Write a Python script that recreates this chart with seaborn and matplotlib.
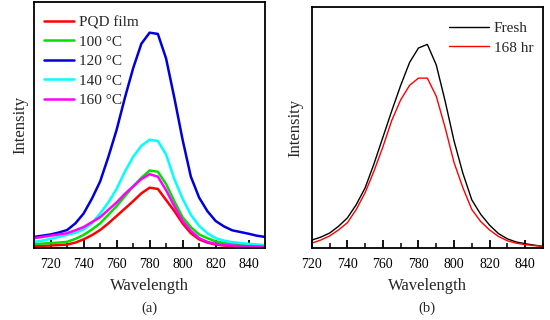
import numpy as np
import pandas as pd
import matplotlib
matplotlib.use('Agg')
import matplotlib.pyplot as plt
from matplotlib.ticker import MultipleLocator
import seaborn as sns

sns.set_style('ticks')
plt.rcParams['font.family'] = ['Liberation Serif', 'DejaVu Serif']

# ---- panel (a): PL spectra after annealing ----
wl_a = list(range(710, 851, 5))
pqd_film = [.008, .009, .010, .012, .014, .022, .035, .052, .073, .100, .130, .160, .190, .222, .245,
            .240, .195, .150, .100, .060, .035, .022, .014, .010, .008, .006, .005, .004, .004]
t100 = [.016, .018, .020, .022, .025, .037, .053, .075, .100, .135, .170, .210, .250, .285, .315,
        .310, .260, .190, .125, .085, .055, .040, .027, .020, .016, .014, .012, .011, .010]
t120 = [.045, .050, .055, .063, .073, .100, .140, .200, .270, .370, .480, .610, .730, .830, .875,
        .870, .770, .610, .440, .290, .205, .150, .110, .088, .072, .065, .058, .050, .045]
t140 = [.025, .030, .037, .045, .053, .062, .075, .100, .140, .185, .240, .310, .370, .415, .440,
        .435, .380, .280, .200, .135, .090, .060, .040, .030, .024, .020, .017, .014, .012]
t160 = [.040, .045, .050, .055, .060, .072, .085, .105, .125, .155, .185, .220, .250, .280, .300,
        .290, .235, .170, .110, .070, .040, .025, .017, .012, .010, .008, .007, .006, .005]
labels_a = ['PQD film', '100 °C', '120 °C', '140 °C', '160 °C']
colors_a = ['#ff0000', '#00e000', '#0000dd', '#00ffff', '#ff00ff']

# ---- panel (b): fresh vs aged ----
wl_b = list(range(720, 851, 5))
fresh = [.033, .045, .062, .090, .125, .180, .250, .350, .460, .570, .675, .770, .830, .845,
         .760, .610, .445, .310, .200, .140, .095, .060, .038, .025, .018, .012, .007]
aged = [.020, .033, .050, .075, .105, .160, .230, .320, .420, .530, .615, .675, .705, .705,
        .630, .500, .355, .250, .160, .110, .075, .048, .030, .020, .014, .010, .007]
labels_b = ['Fresh', '168 hr']
colors_b = ['#000000', '#ff0000']

df_a = pd.concat([
    pd.DataFrame({'wl': wl_a, 'I': v, 'sample': lab})
    for v, lab in zip([pqd_film, t100, t120, t140, t160], labels_a)
])
df_b = pd.concat([
    pd.DataFrame({'wl': wl_b, 'I': v, 'sample': lab})
    for v, lab in zip([fresh, aged], labels_b)
])

fig = plt.figure(figsize=(5.5, 3.2), dpi=100)
ax_a = fig.add_axes([0.062, 0.225, 0.42, 0.769])
ax_b = fig.add_axes([0.567, 0.225, 0.42, 0.753])

sns.lineplot(data=df_a, x='wl', y='I', hue='sample', hue_order=labels_a,
             palette=colors_a, lw=1.8, ax=ax_a)
sns.lineplot(data=df_b, x='wl', y='I', hue='sample', hue_order=labels_b,
             palette=colors_b, lw=1.0, ax=ax_b)

for ax, xlim, tag, lpad in [(ax_a, (710, 850), '(a)', 4),
                            (ax_b, (720, 850), '(b)', 6)]:
    ax.set_xlim(*xlim)
    ax.set_ylim(0, 1.0)
    ax.set_yticks([])
    ax.xaxis.set_major_locator(MultipleLocator(20))
    ax.xaxis.set_minor_locator(MultipleLocator(10))
    ax.tick_params(axis='x', which='major', direction='in', length=6, width=1.3,
                   labelsize=10, pad=7, colors='black')
    ax.tick_params(axis='x', which='minor', direction='in', length=3.5, width=1.3)
    for sp in ax.spines.values():
        sp.set_linewidth(1.3)
        sp.set_color('black')
    ax.set_xlabel('Wavelength', fontsize=12, labelpad=5)
    ax.set_ylabel('Intensity', fontsize=12, labelpad=lpad)
    ax.annotate(tag, xy=(0.5, 0), xycoords='axes fraction',
                xytext=(0, -60), textcoords='offset pixels',
                ha='center', va='center', fontsize=10.5)

ax_a.legend(loc='upper left', frameon=False, fontsize=11, handlelength=2.0,
            handletextpad=0.3, labelspacing=0.38, borderaxespad=0.0,
            bbox_to_anchor=(0.015, 0.97))
ax_b.legend(loc='upper right', frameon=False, fontsize=11, handlelength=2.6,
            handletextpad=0.3, labelspacing=0.38, borderaxespad=0.0,
            bbox_to_anchor=(0.985, 0.965))
for lh in ax_a.get_legend().get_lines():
    lh.set_linewidth(1.8)
for lh in ax_b.get_legend().get_lines():
    lh.set_linewidth(1.0)

fig.savefig('out.png', dpi=100)
